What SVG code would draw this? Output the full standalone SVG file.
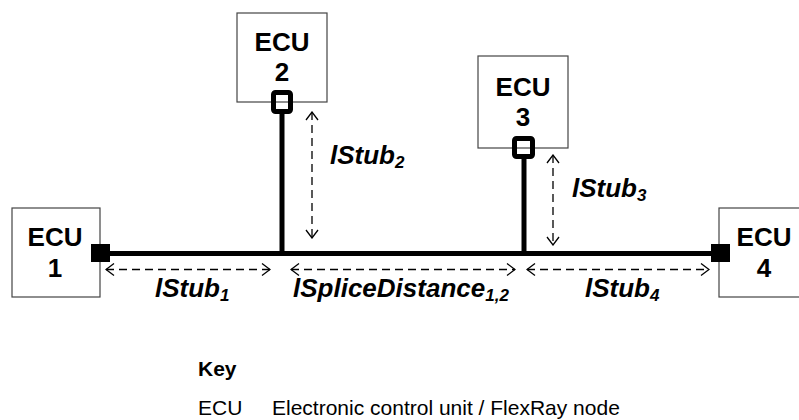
<svg xmlns="http://www.w3.org/2000/svg" width="799" height="420" viewBox="0 0 799 420">
<style>
.box{fill:#fff;stroke:#444;stroke-width:1.2}
.ecu{font-family:"Liberation Sans",Arial,sans-serif;font-weight:bold;font-size:26px;text-anchor:middle;fill:#000}
.lbl{font-family:"Liberation Sans",Arial,sans-serif;font-weight:bold;font-style:italic;font-size:26px;fill:#000}
.sub{font-size:17px}
.bus{stroke:#000;stroke-width:5;fill:none}
.port{fill:none;stroke:#000;stroke-width:5}
.dim{stroke:#000;stroke-width:1.3;fill:none;stroke-dasharray:8,5}
.key{font-family:"Liberation Sans",Arial,sans-serif;font-size:21px;fill:#000}
</style>
<defs>
<marker id="ah" viewBox="0 0 10 14" refX="9" refY="7" markerWidth="10" markerHeight="14" markerUnits="userSpaceOnUse" orient="auto-start-reverse">
<path d="M1,1 L9,7 L1,13" fill="none" stroke="#000" stroke-width="1.3"/>
</marker>
</defs>
<g id="ecu1"><rect class="box" x="12" y="208" width="88" height="89"/><text class="ecu" x="55" y="246">ECU</text><text class="ecu" x="55" y="277">1</text></g>
<g id="ecu2"><rect class="box" x="237" y="13" width="90" height="89"/><text class="ecu" x="282" y="51">ECU</text><text class="ecu" x="282" y="81">2</text></g>
<g id="ecu3"><rect class="box" x="478" y="56" width="90" height="92"/><text class="ecu" x="523" y="96">ECU</text><text class="ecu" x="523" y="126">3</text></g>
<g id="ecu4"><rect class="box" x="719" y="208" width="90" height="89"/><text class="ecu" x="764" y="246">ECU</text><text class="ecu" x="764" y="277">4</text></g>
<g id="connectors">
<line class="bus" x1="105" y1="253.5" x2="716" y2="253.5"/>
<line class="bus" x1="282" y1="112" x2="282" y2="253.5"/>
<line class="bus" x1="524" y1="157" x2="524" y2="253.5"/>
<rect x="91" y="244" width="19" height="18" fill="#000"/>
<rect x="711" y="244" width="19" height="18" fill="#000"/>
<rect class="port" x="273.5" y="92.5" width="17" height="19" rx="2"/>
<rect class="port" x="514.5" y="138.5" width="18" height="18" rx="2"/>
<line class="dim" x1="106" y1="269.5" x2="270" y2="269.5" marker-start="url(#ah)" marker-end="url(#ah)"/>
<line class="dim" x1="291" y1="269.5" x2="515" y2="269.5" marker-start="url(#ah)" marker-end="url(#ah)"/>
<line class="dim" x1="527" y1="269.5" x2="709" y2="269.5" marker-start="url(#ah)" marker-end="url(#ah)"/>
<line class="dim" x1="312" y1="112" x2="312" y2="238" marker-start="url(#ah)" marker-end="url(#ah)"/>
<line class="dim" x1="553" y1="155" x2="553" y2="245" marker-start="url(#ah)" marker-end="url(#ah)"/>
</g>
<g id="labels">
<text class="lbl" x="155" y="297">lStub<tspan class="sub" dy="4">1</tspan></text>
<text class="lbl" x="293" y="297">lSpliceDistance<tspan class="sub" dy="4">1,2</tspan></text>
<text class="lbl" x="585" y="297">lStub<tspan class="sub" dy="4">4</tspan></text>
<text class="lbl" x="330" y="164">lStub<tspan class="sub" dy="4">2</tspan></text>
<text class="lbl" x="572" y="197">lStub<tspan class="sub" dy="4">3</tspan></text>
</g>
<g id="key">
<text class="key" x="198" y="376" font-weight="bold" font-size="20">Key</text>
<text class="key" x="198" y="415">ECU</text>
<text class="key" x="272" y="415">Electronic control unit / FlexRay node</text>
</g>
</svg>
